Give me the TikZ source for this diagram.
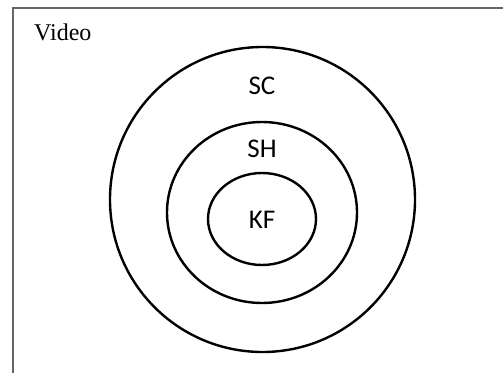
\documentclass[tikz,border=0pt]{standalone}
\usepackage{fontspec}
\setmainfont{Liberation Serif}
\newfontfamily\labelfont{Carlito}
\begin{document}
\begin{tikzpicture}[x=1pt,y=-1pt,
  ring/.style={draw=black,line width=2.4pt},
  lbl/.style={font=\labelfont\fontsize{27}{31}\selectfont,inner sep=0pt},
  frame/.style={draw=black!60,line width=1.5pt}]
\useasboundingbox (0,0) rectangle (503,372);
\fill[white] (0,0) rectangle (503,372);
\draw[frame] (13,380) -- (13,8) -- (510,8);
\node[anchor=base west,font=\fontsize{24}{28}\selectfont,inner sep=0pt] (video) at (34,40) {Video};
\draw[ring] (262.5,199.5) circle (152.5);
\draw[ring] (262,212.5) ellipse (95 and 90.5);
\draw[ring] (262,219) ellipse (54 and 46);
\node[lbl] (sc) at (262,86) {SC};
\node[lbl] (sh) at (262,149) {SH};
\node[lbl] (kf) at (262,220) {KF};
\end{tikzpicture}
\end{document}
